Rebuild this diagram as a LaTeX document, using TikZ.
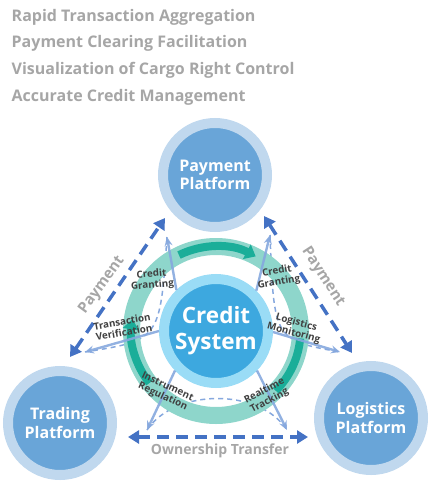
\documentclass[tikz,border=0pt]{standalone}
\usepackage{fontspec}
\setmainfont{Open Sans}
\usetikzlibrary{arrows.meta}
\definecolor{titlegray}{HTML}{A6A6A6}
\definecolor{labelgray}{HTML}{404040}
\definecolor{pfouter}{HTML}{C0D8EE}
\definecolor{pfinner}{HTML}{69A5D8}
\definecolor{csouter}{HTML}{9ADCF6}
\definecolor{csinner}{HTML}{3DA8DF}
\definecolor{tealring}{HTML}{8ED6CB}
\definecolor{tealdark}{HTML}{1AAE99}
\definecolor{thickblue}{HTML}{4472C4}
\definecolor{thinblue}{HTML}{86A8DE}
\begin{document}
\begin{tikzpicture}[x=1pt,y=-1pt,
  titletext/.style={anchor=base west, inner sep=0pt, text=titlegray, font=\fontsize{16}{18}\selectfont\bfseries},
  platform/.style={circle, fill=pfinner, draw=pfouter, line width=10pt, minimum size=104pt, inner sep=0pt,
    text=white, align=center, font=\fontsize{16}{18.5}\selectfont\bfseries},
  creditsys/.style={circle, fill=csinner, draw=csouter, line width=10pt, minimum size=104pt, inner sep=0pt,
    text=white, align=center, font=\fontsize{22.5}{26}\selectfont\bfseries},
  thickdash/.style={draw=thickblue, line width=3.5pt, dash pattern=on 12pt off 7pt,
    {Triangle[length=11pt,width=13pt]}-{Triangle[length=11pt,width=13pt]}},
  thinarrow/.style={draw=thinblue, line width=2.4pt, opacity=0.9, -{Stealth[length=9pt,width=8pt]}},
  thindash/.style={draw=thinblue, line width=1.5pt, dash pattern=on 5pt off 4pt},
  darkarc/.style={draw=tealdark, line width=8pt},
  smalllabel/.style={text=labelgray, align=center, inner sep=0pt, font=\fontsize{9.8}{11}\selectfont\bfseries},
  graylabel/.style={text=titlegray, inner sep=0pt, font=\fontsize{15}{17}\selectfont\bfseries}
]
\useasboundingbox (0,0) rectangle (434,485);

% titles
\node[titletext] (t1) at (11.5,21) {Rapid Transaction Aggregation};
\node[titletext] (t2) at (11.5,47.7) {Payment Clearing Facilitation};
\node[titletext] (t3) at (11.5,74.3) {Visualization of Cargo Right Control};
\node[titletext] (t4) at (11.5,101) {Accurate Credit Management};

% platforms
\node[platform] (pay) at (215,175) {Payment\\Platform};
\node[platform] (trade) at (60,423) {Trading\\Platform};
\node[platform] (logi) at (371,418) {Logistics\\Platform};

% thick dashed arrows
\coordinate (lb) at (70,357);
\coordinate (lt) at (165,218);
\coordinate (rt) at (264,216);
\coordinate (rb) at (352,353);
\coordinate (bl) at (128,437);
\coordinate (br) at (308,437);
\draw[thickdash] (lb) -- (lt);
\draw[thickdash] (rt) -- (rb);
\draw[thickdash] (bl) -- (br);

% tips of thin arrows
\coordinate (cgLt) at (167,237);
\coordinate (cgRt) at (270,235);
\coordinate (tvt) at (85,352);
\coordinate (lmt) at (340,352);
\coordinate (irt) at (147,430);
\coordinate (rtt) at (287,430);

% thin dashed curves (under ring)
\draw[thindash] (cgLt) .. controls (160,340) .. (tvt);
\draw[thindash] (cgRt) .. controls (274,340) .. (lmt);
\draw[thindash] (irt) .. controls (175,388) and (260,388) .. (rtt);

% teal ring
\coordinate (csc) at (216,331);
\draw[tealring, line width=17pt] (csc) circle (84.5);
\begin{scope}[shift={(216,331)}, y=1pt]
  \draw[darkarc, -{Triangle[length=10pt,width=16pt]}] (116:84.5) arc (116:62:84.5);
  \draw[darkarc] (-5:84.5) arc (-5:-45:84.5);
  \draw[darkarc, -{Triangle[length=10pt,width=16pt]}] (218:84.5) arc (218:172:84.5);
\end{scope}

% credit system
\node[creditsys] (cs) at (csc) {Credit\\System};

% thin arrows
\draw[thinarrow] (cs.134) -- (cgLt);
\draw[thinarrow] (cs.45) -- (cgRt);
\draw[thinarrow] (cs.180) -- (tvt);
\draw[thinarrow] (cs.-1) -- (lmt);
\draw[thinarrow] (cs.224) -- (irt);
\draw[thinarrow] (cs.316) -- (rtt);

% small labels
\node[smalllabel, rotate=5] (l1) at (152,280) {Credit\\Granting};
\node[smalllabel, rotate=10] (l2) at (278,277) {Credit\\Granting};
\node[smalllabel, rotate=10] (l3) at (123,327) {Transaction\\Verification};
\node[smalllabel, rotate=-15] (l4) at (295,328) {Logistics\\Monitoring};
\node[smalllabel, rotate=-25] (l5) at (165,392) {Instrument\\Regulation};
\node[smalllabel, rotate=28] (l6) at (267,396) {Realtime\\Tracking};

% gray labels
\node[graylabel, rotate=54] (p1) at (102,285) {Payment};
\node[graylabel, rotate=-57] (p2) at (323,277) {Payment};
\node[graylabel, font=\fontsize{14}{16}\selectfont\bfseries] (ot) at (220,451) {Ownership Transfer};
\end{tikzpicture}
\end{document}
